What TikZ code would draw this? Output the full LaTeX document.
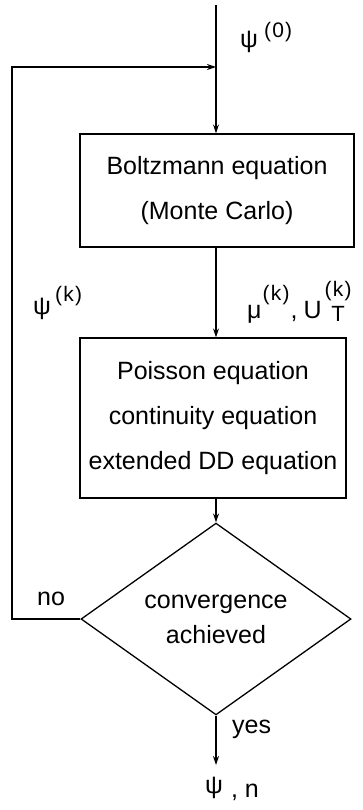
\documentclass[tikz,border=0pt]{standalone}
\usepackage{fontspec}
\setmainfont{Liberation Sans}
\usetikzlibrary{shapes.geometric,arrows.meta}
\newcommand\psy{\raisebox{4pt}{ψ}}
\newcommand\sps[3][3pt]{\hspace{#1}\raisebox{#2}{\fontsize{21}{21}\selectfont\addfontfeature{LetterSpace=6}#3}}
\newcommand\supsub[2]{{\ooalign{\hfil\raisebox{22pt}{\fontsize{21}{21}\selectfont\addfontfeature{LetterSpace=6}#1}\hfil\cr\hfil\raisebox{-3pt}{\fontsize{22}{22}\selectfont#2}\hfil\cr}}}
\begin{document}
\begin{tikzpicture}[x=1pt,y=-1pt,
  every node/.style={font=\fontsize{25}{45}\selectfont},
  flow/.style={line width=1.3pt,-{Stealth[length=9pt,width=6pt]}},
  box/.style={draw,line width=1.3pt,rectangle,inner sep=0pt,align=center},
  dec/.style={draw,line width=1.3pt,diamond,inner sep=0pt,align=center,font=\fontsize{25}{35}\selectfont},
  lbl/.style={anchor=base west,inner sep=0pt}]
\useasboundingbox (0,0) rectangle (363,810);
\coordinate (top) at (216,5);
\coordinate (j) at (216,67);
\node[box,minimum width=274pt,minimum height=113pt] (b1) at (217,190.5) {Boltzmann equation\\(Monte Carlo)};
\node[box,minimum width=266pt,minimum height=160pt] (b2) at (213,418) {Poisson equation\\continuity equation\\extended DD equation};
\node[dec,minimum width=270pt,minimum height=134pt] (d) at (216,619) {convergence\\achieved};
\coordinate (lb) at (12,619);
\coordinate (lt) at (12,67);
\coordinate (end) at (216,765);
\node[lbl] (res) at (205,797) {\psy\hspace{8pt},\hspace{7pt}n};
\node[lbl] (p0) at (240,52) {\psy\sps[6pt]{14pt}{(0)}};
\node[lbl] (pk) at (33,318) {\psy\sps[4pt]{17pt}{(k)}};
\node[lbl] (mu) at (247,318) {μ\sps[1pt]{18pt}{(k)}\hspace{1pt},\hspace{6pt}U\hspace{3pt}\supsub{(k)}{T}};
\node[lbl] (no) at (37,605) {no};
\node[lbl] (yes) at (232,733) {yes};
\draw[flow] (top) -- (j |- b1.north);
\draw[flow] (j |- b1.south) -- (j |- b2.north);
\draw[flow] (j |- b2.south) -- (d.north);
\draw[flow] (d.south) -- (end);
\draw[flow] (d.west) -- (lb) -- (lt) -- (j);
\end{tikzpicture}
\end{document}
